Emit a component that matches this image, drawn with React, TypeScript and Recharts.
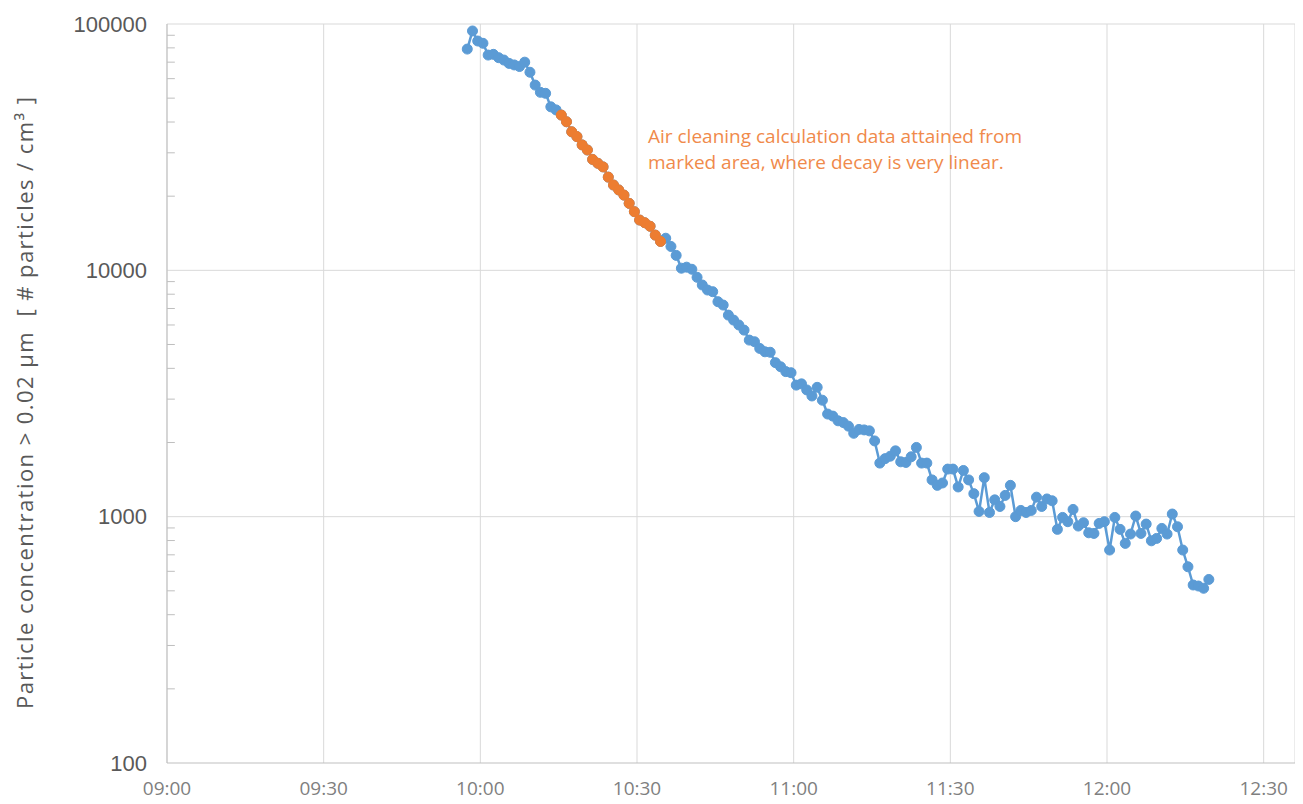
import {
  LineChart,
  Line,
  XAxis,
  YAxis,
  CartesianGrid,
  ReferenceLine,
} from "recharts";

// minutes after 09:00 of the first sample; the logger writes one value per minute
const firstSampleMinute = 57.5;

// particle concentration > 0.02 µm, one reading per minute
const concentration = [
  79100, 93700, 85300, 83500, 74800, 75300, 73000, 71400, 69200, 68200,
  67200, 70000, 63700, 56500, 52800, 52300, 46100, 44800, 42700, 40100,
  36500, 34900, 32300, 30800, 28200, 27200, 26300, 23900, 22200, 21200,
  20200, 18700, 17300, 16000, 15600, 15100, 13900, 13100, 13500, 12500,
  11500, 10200, 10300, 10100, 9370, 8720, 8320, 8190, 7460, 7230,
  6580, 6280, 6000, 5720, 5210, 5130, 4820, 4670, 4650, 4220,
  4060, 3880, 3840, 3420, 3460, 3270, 3090, 3350, 2970, 2610,
  2560, 2450, 2410, 2330, 2180, 2260, 2250, 2230, 2030, 1650,
  1720, 1760, 1850, 1670, 1660, 1750, 1910, 1650, 1650, 1410,
  1340, 1370, 1560, 1560, 1320, 1540, 1410, 1240, 1050, 1440,
  1040, 1170, 1100, 1220, 1340, 1000, 1060, 1040, 1060, 1200,
  1100, 1180, 1160, 888, 993, 954, 1070, 916, 945, 860,
  855, 939, 954, 732, 993, 888, 779, 850, 1006, 855,
  933, 798, 816, 896, 850, 1025, 910, 732, 626, 528,
  523, 512, 556,
];

// samples used for the air cleaning calculation (index range, inclusive)
const markedFrom = 18;
const markedTo = 37;

const timeTicks = [0, 30, 60, 90, 120, 150, 180, 210];
const decadeTicks = [100, 1000, 10000, 100000];
const minorTicks = [
  200, 300, 400, 500, 600, 700, 800, 900,
  2000, 3000, 4000, 5000, 6000, 7000, 8000, 9000,
  20000, 30000, 40000, 50000, 60000, 70000, 80000, 90000,
];

const BLUE = "#5B9BD5";
const ORANGE = "#ED7D31";
const GRID = "#D9D9D9";

const data = concentration.map((v, i) => ({
  t: firstSampleMinute + i,
  all: v,
  marked: i >= markedFrom && i <= markedTo ? v : null,
}));

function clock(m: number) {
  const h = 9 + Math.floor(m / 60);
  const mm = m % 60;
  return `${String(h).padStart(2, "0")}:${String(mm).padStart(2, "0")}`;
}

export default function App() {
  return (
    <div style={{ position: "relative", width: 1290, height: 795 }}>
      <LineChart
        width={1290}
        height={795}
        data={data}
        margin={{ top: 16, right: 3, left: 0, bottom: 0 }}
      >
        <CartesianGrid horizontal={false} stroke={GRID} />
        <XAxis
          dataKey="t"
          type="number"
          domain={[0, 216]}
          ticks={timeTicks}
          tickFormatter={clock}
          height={40}
          tickLine={false}
          tickSize={0}
          tickMargin={19}
          stroke="#BFBFBF"
          tick={{ fill: "#7F7F7F", fontSize: 19, fontFamily: "Open Sans" }}
        />
        <YAxis
          scale="log"
          domain={[100, 100000]}
          ticks={decadeTicks}
          allowDataOverflow
          width={159}
          tickLine={false}
          tickSize={0}
          tickMargin={20}
          stroke="#BFBFBF"
          tick={{ fill: "#595959", fontSize: 22, fontFamily: "Liberation Sans" }}
          label={{
            content: () => (
              <text
                x={16}
                y={395}
                transform="rotate(-90 16 395)"
                textAnchor="middle"
                dominantBaseline="central"
                fill="#595959"
                fontSize={22}
                fontFamily="Open Sans"
                textLength={612}
                lengthAdjust="spacing"
                style={{ whiteSpace: "pre" }}
              >
                {"Particle concentration > 0.02 µm  [ # particles / cm³ ]"}
              </text>
            ),
          }}
        />
        {decadeTicks.slice(1).map((v) => (
          <ReferenceLine key={v} y={v} stroke={GRID} strokeWidth={1} />
        ))}
        {minorTicks.map((v) => (
          <ReferenceLine
            key={"m" + v}
            segment={[
              { x: 0, y: v },
              { x: 1.5, y: v },
            ]}
            stroke="#BFBFBF"
          />
        ))}
        <Line
          dataKey="all"
          stroke={BLUE}
          strokeWidth={2.5}
          dot={{ r: 5, fill: BLUE, stroke: BLUE, strokeWidth: 1 }}
          isAnimationActive={false}
        />
        <Line
          dataKey="marked"
          stroke={ORANGE}
          strokeWidth={2.5}
          dot={{ r: 5, fill: ORANGE, stroke: ORANGE, strokeWidth: 1 }}
          isAnimationActive={false}
        />
      </LineChart>
      <div
        style={{
          position: "absolute",
          left: 640,
          top: 115,
          color: "#F08A4B",
          fontFamily: "Open Sans",
          fontSize: 19,
          lineHeight: "26px",
          whiteSpace: "nowrap",
        }}
      >
        Air cleaning calculation data attained from
        <br />
        marked area, where decay is very linear.
      </div>
    </div>
  );
}
